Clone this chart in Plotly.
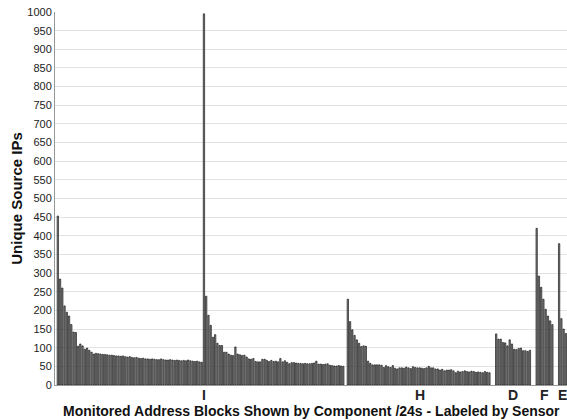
import plotly.graph_objects as go

# ---- data ----
group_I = [453, 284, 260, 212, 195, 185, 162, 142, 141, 104, 110, 105, 96, 99, 93, 88, 83, 85, 84, 83,
           82, 82, 81, 80, 80, 79, 78, 78, 77, 78, 76, 75, 76, 74, 73, 74, 72, 71, 72, 70,
           70, 69, 70, 69, 68, 68, 70, 68, 67, 67, 68, 67, 66, 67, 66, 65, 66, 65, 67, 65,
           64, 63, 64, 62, 61,
           995,
           238, 187, 160, 128, 135, 112, 106, 106, 88, 88, 83, 80, 79, 102, 83, 81, 79, 80, 75, 70,
           69, 71, 63, 62, 62, 69, 69, 66, 63, 66, 63, 64, 62, 71, 62, 65, 61, 57, 60, 60,
           59, 58, 58, 57, 58, 57, 57, 58, 59, 64, 56, 56, 55, 56, 57, 53, 52, 51, 51, 52,
           51, 50]
group_H = [230, 170, 148, 133, 121, 112, 103, 105, 104, 64, 58, 54, 54, 54, 54, 53, 47, 52, 49,
           47, 52, 45, 43, 46, 46, 45, 48, 46, 44, 49, 47, 46, 46, 45, 44, 46, 50, 46, 46,
           43, 43, 40, 42, 38, 40, 40, 41, 38, 33, 37, 35, 36, 38, 36, 35, 37, 36, 34, 35,
           34, 33, 36, 34, 33]
group_D = [137, 123, 123, 114, 113, 105, 121, 110, 96, 95, 98, 99, 92, 92, 90, 93]
group_F = [420, 292, 262, 230, 203, 185, 172, 162]
group_E = [379, 178, 150, 138]

# category slots (empty slots separate sensors)
start_I, start_H, start_D, start_F, start_E = 0, 129, 195, 213, 223

sensor_labels = ["I", "H", "D", "F", "E"]
label_pos = [65, 161, 202.5, 216.5, 224.5]

x_title = "Monitored Address Blocks Shown by Component /24s - Labeled by Sensor"
y_title = "Unique Source IPs"

xs, ys = [], []
for start, grp in [(start_I, group_I), (start_H, group_H), (start_D, group_D),
                   (start_F, group_F), (start_E, group_E)]:
    for i, v in enumerate(grp):
        xs.append(start + i)
        ys.append(v)

font_family = "Liberation Sans, Arial, sans-serif"

fig = go.Figure(go.Bar(
    x=xs, y=ys,
    marker=dict(color="#8a8a8a", line=dict(color="#000000", width=0.6)),
    hoverinfo="skip",
))

annotations = []
for lab, pos in zip(sensor_labels, label_pos):
    annotations.append(dict(
        x=pos, xref="x", y=0, yref="paper", yanchor="top", xanchor="center",
        yshift=0, text=f"<b>{lab}</b>", showarrow=False,
        font=dict(size=14, family=font_family, color="#222222"),
    ))
annotations.append(dict(
    x=0.5, xref="paper", y=0, yref="paper", yanchor="top", xanchor="center",
    yshift=-16, text=f"<b>{x_title}</b>", showarrow=False,
    font=dict(size=14, family=font_family, color="#111111"),
))

fig.update_layout(
    width=567, height=420,
    margin=dict(l=55, r=0, t=12, b=35),
    paper_bgcolor="white", plot_bgcolor="white",
    bargap=0.4,
    showlegend=False,
    font=dict(family=font_family, color="#222222"),
    annotations=annotations,
)
fig.update_xaxes(
    range=[-1.25, 226.5],
    showticklabels=False,
    showgrid=False, zeroline=False,
    showline=True, linecolor="#999999", linewidth=1,
    ticks="",
)
fig.update_yaxes(
    range=[0, 1000], dtick=50,
    tickfont=dict(size=11, family=font_family, color="#222222"),
    showgrid=True, gridcolor="#e3e3e3", gridwidth=1,
    zeroline=False,
    showline=True, linecolor="#999999", linewidth=1,
    ticks="",
    title=dict(text=f"<b>{y_title}</b>",
               font=dict(size=15, family=font_family, color="#111111"), standoff=1),
)

fig.write_html("out.html")
